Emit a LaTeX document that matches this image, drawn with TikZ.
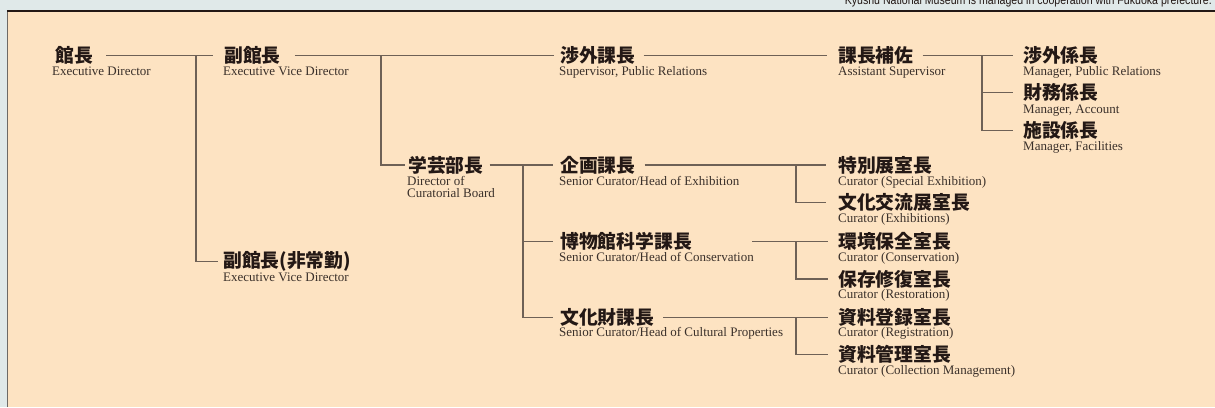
\documentclass[tikz,border=0pt]{standalone}
\usepackage{fontspec}
\usepackage{graphicx}
\setmainfont{Liberation Serif}
\newfontfamily\jpfont{Noto Sans CJK JP}
\newfontfamily\notefont{Liberation Sans}
\definecolor{bgblue}{HTML}{E0E9E9}
\definecolor{peach}{HTML}{FDE3C2}
\definecolor{ink}{HTML}{231815}
\definecolor{enink}{HTML}{3A302A}
\definecolor{linec}{HTML}{6E6156}
\definecolor{leftb}{HTML}{6E6A66}
\tikzset{
  jp/.style={font=\jpfont\bfseries\fontsize{18.8}{19}\selectfont, text=ink, anchor=west, inner sep=0pt},
  en/.style={font=\fontsize{13}{12.5}\selectfont, text=enink, anchor=base west, inner sep=0pt, align=left},
  conn/.style={draw=linec, line width=1.2pt},
}
\begin{document}
\begin{tikzpicture}[x=1pt,y=-1pt]
\useasboundingbox (0,0) rectangle (1215,407);
\clip (0,0) rectangle (1215,407);
\fill[bgblue] (0,0) rectangle (1215,407);
\fill[peach] (7.5,11) rectangle (1215,407);
\draw[leftb, line width=1.4pt] (7.5,407) -- (7.5,11);
\draw[ink, line width=1.2pt] (6.8,11) -- (1215,11);
\node[anchor=base east, inner sep=0pt, text=ink] (note) at (1212,4.5)
  {\resizebox{367pt}{9pt}{\notefont Kyushu National Museum is managed in cooperation with Fukuoka prefecture.}};

% Japanese titles
\node[jp] (kancho)    at (55,55.5)   {館長};
\node[jp] (fuku)      at (224,55.5)  {副館長};
\node[jp] (shogai)    at (560,55.5)  {渉外課長};
\node[jp] (hosa)      at (838,55.5)  {課長補佐};
\node[jp] (kakari1)   at (1023,55.5) {渉外係長};
\node[jp] (kakari2)   at (1023,92.7) {財務係長};
\node[jp] (kakari3)   at (1023,130.7){施設係長};
\node[jp] (gakugei)   at (408,165)   {学芸部長};
\node[jp] (kikaku)    at (560,165)   {企画課長};
\node[jp] (tokubetsu) at (838,165)   {特別展室長};
\node[jp] (bunka)     at (838,202.7) {文化交流展室長};
\node[jp] (hakubutsu) at (560,241.7) {博物館科学課長};
\node[jp] (kankyo)    at (838,241.7) {環境保全室長};
\node[jp] (hozon)     at (838,279)   {保存修復室長};
\node[jp] (bunkazai)  at (560,317.3) {文化財課長};
\node[jp] (toroku)    at (838,317.3) {資料登録室長};
\node[jp] (kanri)     at (838,354.7) {資料管理室長};
\node[jp] (fuku2)     at (223,261.7) {副館長(非常勤)};

% English titles
\node[en] (kancho-en)    at (52,75.5)   {Executive Director};
\node[en] (fuku-en)      at (223,75.5)  {Executive Vice Director};
\node[en] (shogai-en)    at (559,75.5)  {Supervisor, Public Relations};
\node[en] (hosa-en)      at (838,75.5)  {Assistant Supervisor};
\node[en] (kakari1-en)   at (1023,75.5) {Manager, Public Relations};
\node[en] (kakari2-en)   at (1023,113)  {Manager, Account};
\node[en] (kakari3-en)   at (1023,150.5){Manager, Facilities};
\node[en] (gakugei-en)   at (407,185)   {Director of};
\node[en] (gakugei-en2)  at (407,197.5) {Curatorial Board};
\node[en] (kikaku-en)    at (559,185)   {Senior Curator/Head of Exhibition};
\node[en] (tokubetsu-en) at (838,185)   {Curator (Special Exhibition)};
\node[en] (bunka-en)     at (838,222.3) {Curator (Exhibitions)};
\node[en] (hakubutsu-en) at (559,261.5) {Senior Curator/Head of Conservation};
\node[en] (kankyo-en)    at (838,261.3) {Curator (Conservation)};
\node[en] (hozon-en)     at (838,298.5) {Curator (Restoration)};
\node[en] (bunkazai-en)  at (559,336.7) {Senior Curator/Head of Cultural Properties};
\node[en] (toroku-en)    at (838,336.7) {Curator (Registration)};
\node[en] (kanri-en)     at (838,374)   {Curator (Collection Management)};
\node[en] (fuku2-en)     at (223,281.3) {Executive Vice Director};

% connectors
\coordinate (j1) at (196,55.5);
\coordinate (j2) at (381,55.5);
\coordinate (j3) at (982,55.5);
\coordinate (j4) at (523,165);
\coordinate (j5) at (796,165);
\coordinate (j6) at (796,241.7);
\coordinate (j7) at (796,317.3);

\draw[conn] ([xshift=13pt]kancho.east) -- ([xshift=-11pt]fuku.west);
\draw[conn] (j1) |- ([xshift=-5pt]fuku2.west);
\draw[conn] ([xshift=14pt]fuku.east) -- ([xshift=-6pt]shogai.west);
\draw[conn] (j2) |- ([xshift=-3pt]gakugei.west);
\draw[conn] ([xshift=8pt]shogai.east) -- ([xshift=-11pt]hosa.west);
\draw[conn] ([xshift=9pt]hosa.east) -- ([xshift=-10pt]kakari1.west);
\draw[conn] (j3) |- ([xshift=-10pt]kakari2.west);
\draw[conn] (j3) |- ([xshift=-10pt]kakari3.west);
\draw[conn] ([xshift=6pt]gakugei.east) -- ([xshift=-7pt]kikaku.west);
\draw[conn] (j4) |- ([xshift=-7pt]hakubutsu.west);
\draw[conn] (j4) |- ([xshift=-7pt]bunkazai.west);
\draw[conn] ([xshift=9pt]kikaku.east) -- ([xshift=-12pt]tokubetsu.west);
\draw[conn] (j5) |- ([xshift=-12pt]bunka.west);
\draw[conn] ([xshift=60pt]hakubutsu.east) -- ([xshift=-10pt]kankyo.west);
\draw[conn] (j6) |- ([xshift=-10pt]hozon.west);
\draw[conn] ([xshift=9pt]bunkazai.east) -- ([xshift=-10pt]toroku.west);
\draw[conn] (j7) |- ([xshift=-10pt]kanri.west);
\end{tikzpicture}
\end{document}
